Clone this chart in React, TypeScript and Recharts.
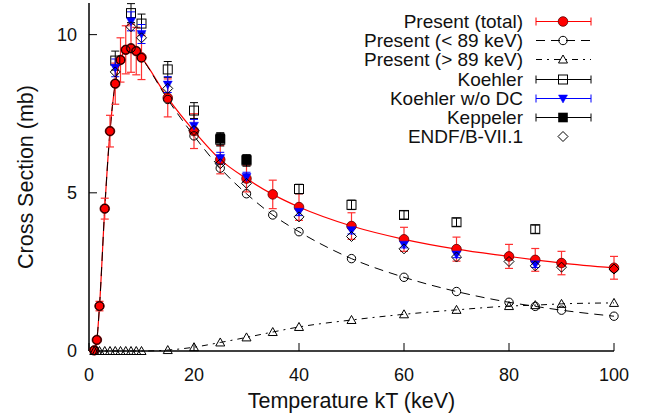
import React from "react";
import {
  ComposedChart, Line, Scatter, XAxis, YAxis, ErrorBar,
} from "recharts";

// Present (total) — x, value, uncertainty
const TOTAL_X = [1, 1.5, 2, 3, 4, 5, 6, 7, 8, 9, 10, 15, 20, 25, 30, 35, 40, 50, 60, 70, 80, 85, 90, 100];
const TOTAL_Y = [0.02, 0.35, 1.42, 4.5, 6.95, 8.45, 9.2, 9.52, 9.57, 9.48, 9.28, 8.0, 6.95, 6.05, 5.45, 4.95, 4.55, 3.95, 3.53, 3.22, 2.99, 2.88, 2.78, 2.63];
const TOTAL_E = [0.01, 0.05, 0.15, 0.33, 0.5, 0.65, 0.7, 0.76, 0.76, 0.75, 0.7, 0.6, 0.55, 0.45, 0.42, 0.45, 0.42, 0.42, 0.38, 0.38, 0.38, 0.36, 0.37, 0.36];

// Present split below / above 89 keV
const LOW_Y = [0.02, 0.35, 1.42, 4.5, 6.95, 8.45, 9.2, 9.52, 9.57, 9.48, 9.27, 7.95, 6.8, 5.78, 4.97, 4.3, 3.77, 2.92, 2.33, 1.88, 1.54, 1.41, 1.29, 1.1];
const HIGH_Y = [0, 0, 0, 0, 0, 0, 0, 0, 0, 0, 0, 0.03, 0.12, 0.27, 0.43, 0.6, 0.76, 0.98, 1.16, 1.3, 1.42, 1.45, 1.49, 1.52];

// Koehler, with and without DC
const KOE_X = [5, 8, 10, 15, 20, 25, 30, 40, 50, 60, 70, 85];
const KOE_Y = [9.18, 10.68, 10.35, 8.9, 7.6, 6.68, 6.02, 5.12, 4.62, 4.3, 4.07, 3.85];
const KOE_E = [0.3, 0.3, 0.3, 0.25, 0.25, 0.2, 0.18, 0.15, 0.15, 0.13, 0.13, 0.13];
const KOE_NODC_Y = [8.95, 10.42, 10.02, 8.42, 7.12, 6.1, 5.5, 4.4, 3.82, 3.36, 3.05, 2.74];
const KOE_NODC_E = [0.28, 0.3, 0.3, 0.25, 0.2, 0.18, 0.15, 0.12, 0.12, 0.1, 0.1, 0.1];

// Keppeler
const KEP_X = [25, 30];
const KEP_Y = [6.72, 6.05];
const KEP_E = [0.18, 0.15];

// ENDF/B-VII.1
const ENDF_X = [5, 8, 10, 15, 20, 25, 30, 40, 50, 60, 70, 80, 85, 90, 100];
const ENDF_Y = [8.82, 10.25, 9.9, 8.3, 6.97, 5.92, 5.3, 4.24, 3.62, 3.23, 2.97, 2.83, 2.69, 2.65, 2.59];

const X_TICKS = [0, 20, 40, 60, 80, 100];
const Y_TICKS = [0, 5, 10];

const zip = (xs: number[], ys: number[], es?: number[]) =>
  xs.map((x, i) => ({ x, y: ys[i], e: es ? es[i] : 0 }));

const total = zip(TOTAL_X, TOTAL_Y, TOTAL_E);
const low = zip(TOTAL_X, LOW_Y);
const high = zip(TOTAL_X, HIGH_Y);
const koehler = zip(KOE_X, KOE_Y, KOE_E);
const koehlerNoDC = zip(KOE_X, KOE_NODC_Y, KOE_NODC_E);
const keppeler = zip(KEP_X, KEP_Y, KEP_E);
const endf = zip(ENDF_X, ENDF_Y);

const FONT = "'Liberation Sans', Arial, Helvetica, sans-serif";

// marker shapes
const RedDot = ({ cx, cy }: any) => (
  <circle cx={cx} cy={cy} r={4.8} fill="#ff0000" stroke="#5a0000" strokeWidth={0.8} />
);
const OpenCircle = ({ cx, cy }: any) => (
  <circle cx={cx} cy={cy} r={4.2} fill="none" stroke="#000" strokeWidth={1} />
);
const OpenTriangle = ({ cx, cy }: any) => (
  <path d={`M${cx},${cy - 4.5} L${cx + 4.5},${cy + 3.5} L${cx - 4.5},${cy + 3.5} Z`} fill="none" stroke="#000" strokeWidth={1} />
);
const OpenSquare = ({ cx, cy }: any) => (
  <rect x={cx - 4.5} y={cy - 4.5} width={9} height={9} fill="none" stroke="#000" strokeWidth={1} />
);
const BlueTriangle = ({ cx, cy }: any) => (
  <path d={`M${cx - 4.5},${cy - 3.5} L${cx + 4.5},${cy - 3.5} L${cx},${cy + 4.5} Z`} fill="#0000ff" stroke="#0000ff" strokeWidth={0.5} />
);
const FilledSquare = ({ cx, cy }: any) => (
  <rect x={cx - 4.8} y={cy - 4.8} width={9.6} height={9.6} fill="#000" />
);
const OpenDiamond = ({ cx, cy }: any) => (
  <path d={`M${cx},${cy - 5} L${cx + 5},${cy} L${cx},${cy + 5} L${cx - 5},${cy} Z`} fill="none" stroke="#000" strokeWidth={1} />
);

const Empty = () => <g />;

type LegendRow = {
  label: string;
  color?: string;
  caps?: boolean;
  dash?: string;
  line?: boolean;
  Mark: (p: any) => React.ReactElement;
};

const LEGEND: LegendRow[] = [
  { label: "Present (total)", color: "#ff0000", caps: true, line: true, Mark: RedDot },
  { label: "Present (< 89 keV)", color: "#000", dash: "9 6", line: true, Mark: OpenCircle },
  { label: "Present (> 89 keV)", color: "#000", dash: "6 5 2 5", line: true, Mark: OpenTriangle },
  { label: "Koehler", color: "#000", caps: true, line: true, Mark: OpenSquare },
  { label: "Koehler w/o DC", color: "#0000ff", caps: true, line: true, Mark: BlueTriangle },
  { label: "Keppeler", color: "#000", caps: true, line: true, Mark: FilledSquare },
  { label: "ENDF/B-VII.1", Mark: OpenDiamond },
];

function ChartLegend() {
  return (
    <div style={{ position: "absolute", left: 0, top: 0, pointerEvents: "none" }}>
      {LEGEND.map((row, i) => {
        const top = 12 + i * 19.2;
        const { Mark } = row;
        return (
          <React.Fragment key={row.label}>
            <div
              style={{
                position: "absolute", top, left: 223, width: 300, textAlign: "right",
                fontFamily: FONT, fontSize: 19, lineHeight: "19px", color: "#111", whiteSpace: "nowrap",
              }}
            >
              {row.label}
            </div>
            <svg style={{ position: "absolute", top, left: 535 }} width={58} height={19}>
              {row.line && (
                <line x1={1} y1={9.5} x2={56} y2={9.5} stroke={row.color} strokeWidth={1} strokeDasharray={row.dash} />
              )}
              {row.caps && (
                <>
                  <line x1={1} y1={5.5} x2={1} y2={13.5} stroke={row.color} strokeWidth={1} />
                  <line x1={56} y1={5.5} x2={56} y2={13.5} stroke={row.color} strokeWidth={1} />
                </>
              )}
              <Mark cx={28} cy={9.5} />
            </svg>
          </React.Fragment>
        );
      })}
    </div>
  );
}

const tickFont = { fontSize: 18, fill: "#111", fontFamily: FONT };
const axisStroke = { stroke: "#000", strokeWidth: 1.5 };

export default function App() {
  return (
    <div style={{ position: "relative", width: 657, height: 419, background: "#fff" }}>
      <style>{`body{margin:0}`}</style>
      <ComposedChart width={657} height={419} margin={{ top: 3, right: 43, bottom: 0, left: 0 }}>
        <XAxis
          xAxisId={0} type="number" dataKey="x" domain={[0, 100]} ticks={X_TICKS}
          height={68} tickSize={-8} tickMargin={25} tick={tickFont}
          axisLine={axisStroke} tickLine={{ stroke: "#000" }}
          label={{ value: "Temperature kT (keV)", position: "insideBottom", offset: 11, style: { fontSize: 21.5, fill: "#111", fontFamily: FONT } }}
        />
        <XAxis
          xAxisId="top" orientation="top" type="number" dataKey="x" domain={[0, 100]} ticks={X_TICKS}
          height={0} tickSize={-8} tick={Empty} axisLine={axisStroke} tickLine={{ stroke: "#000" }}
        />
        <YAxis
          yAxisId={0} type="number" domain={[0, 11]} ticks={Y_TICKS} width={89}
          tickSize={-8} tickMargin={20} tick={tickFont}
          axisLine={axisStroke} tickLine={{ stroke: "#000" }}
          label={{ value: "Cross Section (mb)", angle: -90, position: "insideLeft", offset: 25, style: { textAnchor: "middle", fontSize: 21.5, fill: "#111", fontFamily: FONT } }}
        />
        <YAxis
          yAxisId="right" orientation="right" type="number" domain={[0, 11]} ticks={Y_TICKS} width={0}
          tickSize={-8} tick={Empty} axisLine={axisStroke} tickLine={{ stroke: "#000" }}
        />

        <Line data={total} dataKey="y" type="monotone" stroke="#ff0000" strokeWidth={1.2} dot={false} isAnimationActive={false} />
        <Line data={low} dataKey="y" type="monotone" stroke="#000" strokeWidth={1} strokeDasharray="9 6" dot={false} isAnimationActive={false} />
        <Line data={high} dataKey="y" type="monotone" stroke="#000" strokeWidth={1} strokeDasharray="6 5 2 5" dot={false} isAnimationActive={false} />

        <Scatter data={total} dataKey="y" shape={RedDot} isAnimationActive={false}>
          <ErrorBar dataKey="e" direction="y" width={4} stroke="#ff3030" strokeWidth={1.2} />
        </Scatter>
        <Scatter data={low} dataKey="y" shape={OpenCircle} isAnimationActive={false} />
        <Scatter data={high} dataKey="y" shape={OpenTriangle} isAnimationActive={false} />
        <Scatter data={koehler} dataKey="y" shape={OpenSquare} isAnimationActive={false}>
          <ErrorBar dataKey="e" direction="y" width={4} stroke="#000" strokeWidth={1} />
        </Scatter>
        <Scatter data={koehlerNoDC} dataKey="y" shape={BlueTriangle} isAnimationActive={false}>
          <ErrorBar dataKey="e" direction="y" width={4} stroke="#0000ff" strokeWidth={1} />
        </Scatter>
        <Scatter data={keppeler} dataKey="y" shape={FilledSquare} isAnimationActive={false}>
          <ErrorBar dataKey="e" direction="y" width={4} stroke="#000" strokeWidth={1} />
        </Scatter>
        <Scatter data={endf} dataKey="y" shape={OpenDiamond} isAnimationActive={false} />
      </ComposedChart>
      <ChartLegend />
    </div>
  );
}
